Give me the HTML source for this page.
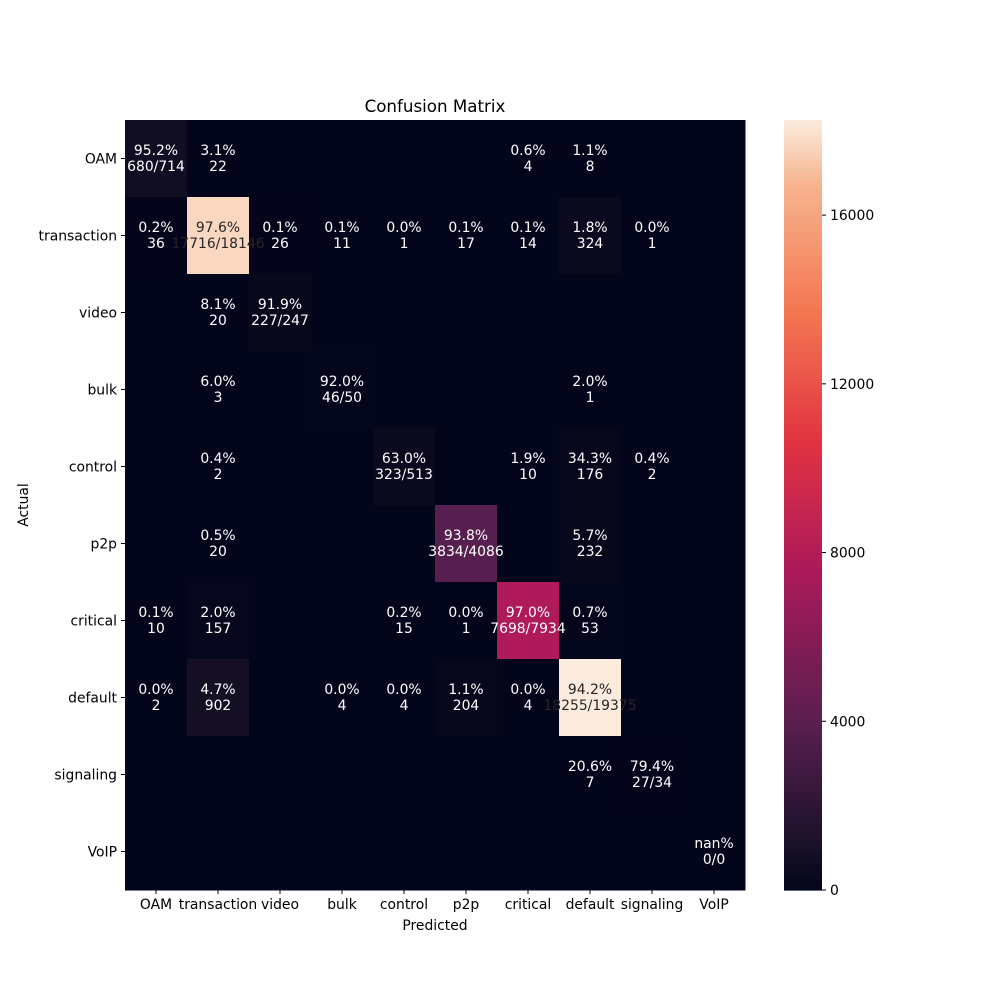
<!DOCTYPE html>
<html><head><meta charset="utf-8"><style>
body{margin:0;background:#fff;}
svg text{font-family:"DejaVu Sans","Liberation Sans",sans-serif;}
</style></head><body>
<svg id="chart" width="1000" height="1000" xmlns="http://www.w3.org/2000/svg">
<rect width="1000" height="1000" fill="#fff"/>
<text x="435" y="112" font-size="16.7" text-anchor="middle">Confusion Matrix</text>
<text x="435" y="930" font-size="13.9" text-anchor="middle">Predicted</text>
<text x="0" y="0" font-size="13.9" text-anchor="middle" transform="translate(28,505) rotate(-90)">Actual</text>
<g id="cells"></g><g id="labels"></g><g id="ticks"></g><g id="cbar"></g>
</svg>
<script>
const labels = ["OAM","transaction","video","bulk","control","p2p","critical","default","signaling","VoIP"];
const rowOAM = [680,22,0,0,0,0,4,8,0,0];
const rowTransaction = [36,17716,26,11,1,17,14,324,1,0];
const rowVideo = [0,20,227,0,0,0,0,0,0,0];
const rowBulk = [0,3,0,46,0,0,0,1,0,0];
const rowControl = [0,2,0,0,323,0,10,176,2,0];
const rowP2p = [0,20,0,0,0,3834,0,232,0,0];
const rowCritical = [10,157,0,0,15,1,7698,53,0,0];
const rowDefault = [2,902,0,4,4,204,4,18255,0,0];
const rowSignaling = [0,0,0,0,0,0,0,7,27,0];
const rowVoIP = [0,0,0,0,0,0,0,0,0,0];
const matrix = [rowOAM,rowTransaction,rowVideo,rowBulk,rowControl,rowP2p,rowCritical,rowDefault,rowSignaling,rowVoIP];
const cbarTicks = [0,4000,8000,12000,16000];

const NS="http://www.w3.org/2000/svg";
const X0=125,X1=745,Y0=120,Y1=890;
const n=labels.length, cw=(X1-X0)/n, ch=(Y1-Y0)/n;
const vmax=Math.max(...matrix.flat());
const xPos=i=>X0+i*cw, yPos=i=>Y0+i*ch;
const stops=[[0,[3,5,26]],[0.05,[22,16,37]],[0.21,[86,31,79]],[0.42,[173,26,90]],[0.583,[225,51,66]],[0.75,[243,118,81]],[0.917,[246,180,143]],[1,[250,235,221]]];
function cmap(t){t=Math.max(0,Math.min(1,t));for(let i=1;i<stops.length;i++){if(t<=stops[i][0]){const a=stops[i-1],b=stops[i],f=(t-a[0])/(b[0]-a[0]);return a[1].map((v,k)=>Math.round(v+(b[1][k]-v)*f));}}return stops[stops.length-1][1];}
function lum(c){const l=c.map(v=>{v/=255;return v<=0.03928?v/12.92:Math.pow((v+0.055)/1.055,2.4)});return 0.2126*l[0]+0.7152*l[1]+0.0722*l[2];}
function mk(tag,attrs,parent){const e=document.createElementNS(NS,tag);for(const k in attrs)e.setAttribute(k,attrs[k]);parent.appendChild(e);return e;}
const cells=document.getElementById('cells');
const lbls=document.getElementById('labels');
matrix.forEach((row,r)=>{
  const tot=row.reduce((a,b)=>a+b,0);
  row.forEach((v,c)=>{
    const col=cmap(v/vmax);
    const rect=mk('rect',{x:xPos(c),y:yPos(r),width:cw+0.5,height:ch+0.5,fill:`rgb(${col})`},cells);
    
    
    let l1='',l2='';
    if(r===c){l1=(tot?(v/tot*100).toFixed(1):'nan')+'%';l2=v+'/'+tot;}
    else if(v>0){l1=(v/tot*100).toFixed(1)+'%';l2=''+v;}
    if(l1){
      const fill=lum(col)>0.408?'#262626':'#ffffff';
      const cx=xPos(c)+cw/2, cy=yPos(r)+ch/2;
      [[l1,cy-3.5],[l2,cy+12.5]].forEach(([s,y])=>{
        const t=mk('text',{x:cx,y:y,'font-size':13.9,'text-anchor':'middle',fill:fill},lbls);
        t.textContent=s;
        
        
      });
    }
  });
});
const ticks=document.getElementById('ticks');
labels.forEach((lab,i)=>{
  const cx=xPos(i)+cw/2, cy=yPos(i)+ch/2;
  mk('line',{x1:cx,x2:cx,y1:Y1,y2:Y1+4,stroke:'#000'},ticks);
  const tx=mk('text',{x:cx,y:Y1+19,'font-size':13.9,'text-anchor':'middle'},ticks);
  tx.textContent=lab;
  
  
  mk('line',{x1:X0-4,x2:X0,y1:cy,y2:cy,stroke:'#000'},ticks);
  const ty=mk('text',{x:X0-8,y:cy+5,'font-size':13.9,'text-anchor':'end'},ticks);
  ty.textContent=lab;
  
  
});
const cb=document.getElementById('cbar');
const CX=784,CW=38,steps=200;
for(let i=0;i<steps;i++){
  const t=(i+0.5)/steps;
  const y=Y1-(i+1)*(Y1-Y0)/steps;
  const seg=mk('rect',{x:CX,y:y,width:CW,height:(Y1-Y0)/steps+0.6,fill:`rgb(${cmap(t)})`},cb);
  
  
}
cbarTicks.forEach(v=>{
  const y=Y1-v/vmax*(Y1-Y0);
  mk('line',{x1:CX+CW,x2:CX+CW+4,y1:y,y2:y,stroke:'#000'},cb);
  const t=mk('text',{x:CX+CW+8,y:y+5,'font-size':13.9},cb);
  t.textContent=v;
  
  
});
</script>
</body></html>
